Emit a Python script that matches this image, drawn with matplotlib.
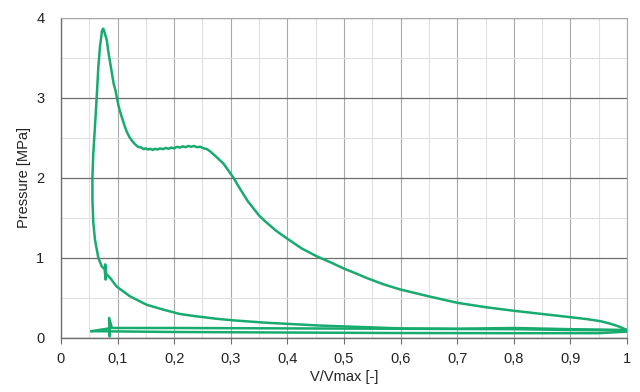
import matplotlib
matplotlib.use("Agg")
import matplotlib.pyplot as plt
from matplotlib.ticker import MultipleLocator, FuncFormatter

plt.rcParams['font.family'] = ['Liberation Sans', 'DejaVu Sans']

# intake stroke (left to right, low pressure)
intake_v = [0.054, 0.085, 0.2, 0.4, 0.6, 0.8, 0.95, 1.0]
intake_p = [0.085, 0.083, 0.075, 0.068, 0.062, 0.06, 0.06, 0.08]

# compression (right to left) up to the peak
comp_v = [1.0, 0.95, 0.9, 0.8, 0.7, 0.6, 0.458, 0.364, 0.305, 0.275, 0.240,
          0.210, 0.181, 0.151, 0.122, 0.098, 0.087, 0.080, 0.078, 0.079,
          0.077, 0.072, 0.066, 0.060, 0.057, 0.0555, 0.0555, 0.057, 0.060,
          0.063, 0.066, 0.069, 0.0725, 0.0745]
comp_p = [0.1, 0.105, 0.11, 0.125, 0.115, 0.12, 0.155, 0.19, 0.22, 0.24, 0.27,
          0.30, 0.354, 0.416, 0.52, 0.645, 0.75, 0.80, 0.92, 0.73,
          0.86, 0.895, 1.0, 1.23, 1.45, 1.73, 2.0, 2.3, 2.64,
          3.0, 3.39, 3.65, 3.84, 3.86]

# expansion from the peak down to bottom dead centre
exp_v = [0.0745, 0.077, 0.081, 0.084, 0.089, 0.093, 0.096, 0.102, 0.107,
         0.112, 0.116, 0.121, 0.126, 0.131, 0.136, 0.142, 0.146, 0.150, 0.154,
         0.158, 0.162, 0.166, 0.170, 0.175, 0.180, 0.185, 0.190, 0.195, 0.200,
         0.205, 0.210, 0.215, 0.220, 0.225, 0.230, 0.235, 0.240, 0.246, 0.252,
         0.258, 0.264, 0.275, 0.287, 0.296, 0.305, 0.314, 0.322, 0.330, 0.340,
         0.350, 0.362, 0.38, 0.40, 0.425, 0.452, 0.475, 0.499, 0.52, 0.54,
         0.57, 0.60, 0.65, 0.70, 0.75, 0.80, 0.85, 0.90, 0.93, 0.953, 0.97,
         0.985, 1.0]
exp_p = [3.86, 3.82, 3.72, 3.56, 3.35, 3.18, 3.10, 2.89, 2.77,
         2.66, 2.58, 2.51, 2.46, 2.42, 2.39, 2.38, 2.36, 2.37, 2.355,
         2.365, 2.35, 2.365, 2.355, 2.37, 2.36, 2.375, 2.365, 2.38, 2.37,
         2.39, 2.38, 2.395, 2.385, 2.40, 2.39, 2.40, 2.385, 2.39, 2.37,
         2.36, 2.33, 2.26, 2.18, 2.09, 2.00, 1.89, 1.80, 1.71, 1.62,
         1.53, 1.45, 1.34, 1.24, 1.12, 1.02, 0.95, 0.87, 0.81, 0.75,
         0.67, 0.605, 0.52, 0.44, 0.385, 0.34, 0.30, 0.26, 0.235, 0.21, 0.18,
         0.145, 0.10]

# exhaust stroke (right to left)
exh_v = [1.0, 0.9, 0.8, 0.6, 0.4, 0.2, 0.09, 0.085, 0.086, 0.085, 0.054]
exh_p = [0.095, 0.10, 0.11, 0.115, 0.12, 0.125, 0.125, 0.25, 0.02, 0.12, 0.085]

green = '#18ab70'

fig = plt.figure(figsize=(6.4, 3.92), dpi=100)
ax = fig.add_axes([0.0953, 0.1378, 0.8844, 0.8164])

for v, p in [(intake_v, intake_p), (comp_v, comp_p), (exp_v, exp_p), (exh_v, exh_p)]:
    ax.plot(v, p, color=green, lw=1.8, zorder=3, solid_joinstyle='round')

ax.set_xlim(0, 1)
ax.set_ylim(0, 4)
ax.xaxis.set_major_locator(MultipleLocator(0.1))
ax.xaxis.set_minor_locator(MultipleLocator(0.05))
ax.yaxis.set_major_locator(MultipleLocator(1))
ax.yaxis.set_minor_locator(MultipleLocator(0.5))
ax.xaxis.set_major_formatter(FuncFormatter(lambda v, _: ('%g' % round(v, 2)).replace('.', ',')))

ax.grid(axis='x', which='major', color='#a8a8a8', lw=0.8)
ax.grid(axis='y', which='major', color='#6e6e6e', lw=0.9)
ax.grid(which='minor', color='#e0e0e0', lw=0.8)
ax.set_axisbelow(True)

for s in ['top', 'right']:
    ax.spines[s].set_color('#a8a8a8')
    ax.spines[s].set_linewidth(0.8)
for s in ['left', 'bottom']:
    ax.spines[s].set_color('#6e6e6e')
    ax.spines[s].set_linewidth(1.0)

ax.tick_params(axis='x', which='major', length=4, color='#6e6e6e', labelsize=10.5, labelcolor='#222222', pad=6)
ax.tick_params(axis='y', which='major', length=0, labelsize=10.5, labelcolor='#222222', pad=12)
ax.tick_params(which='minor', length=0)

ax.set_xlabel('V/Vmax [-]', fontsize=10.5, color='#222222', labelpad=3)
ax.set_ylabel('Pressure [MPa]', fontsize=10.5, color='#222222', labelpad=4)

fig.savefig('out.png', dpi=100)
